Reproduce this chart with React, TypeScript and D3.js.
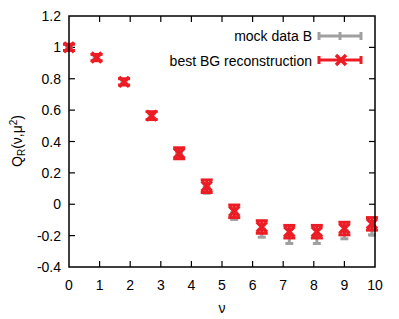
import React from "react";
import * as d3 from "d3";

const nu = [0, 0.9, 1.8, 2.7, 3.6, 4.5, 5.4, 6.3, 7.2, 8.1, 9.0, 9.9];
const bgValues = [1.0, 0.935, 0.78, 0.565, 0.325, 0.115, -0.045, -0.145, -0.175, -0.175, -0.155, -0.125];
const bgErrors = [0.02, 0.02, 0.02, 0.025, 0.035, 0.04, 0.04, 0.04, 0.04, 0.04, 0.04, 0.04];
const mockValues = [1.0, 0.935, 0.78, 0.56, 0.31, 0.09, -0.075, -0.185, -0.225, -0.225, -0.195, -0.17];
const mockErrors = [0.01, 0.01, 0.012, 0.015, 0.018, 0.02, 0.022, 0.025, 0.025, 0.025, 0.025, 0.025];
const xTicks = [0, 1, 2, 3, 4, 5, 6, 7, 8, 9, 10];
const yTicks = [-0.4, -0.2, 0, 0.2, 0.4, 0.6, 0.8, 1, 1.2];
const legendLabels = ["mock data B", "best BG reconstruction"];

const W = 399;
const H = 319;
const M = { left: 69, right: 375, top: 16, bottom: 267 };
const GRAY = "#a0a0a0";
const RED = "#ed1c24";
const FONT = "'Liberation Sans', Arial, sans-serif";

export default function App() {
  const x = d3.scaleLinear().domain([0, 10]).range([M.left, M.right]);
  const y = d3.scaleLinear().domain([-0.4, 1.2]).range([M.bottom, M.top]);
  const tl = 6;

  const errBar = (cx: number, v: number, e: number, color: string, capW: number, key: string) => {
    const y1 = y(v + e);
    const y2 = y(v - e);
    return (
      <g key={key} stroke={color} strokeWidth={3} fill="none">
        <line x1={cx} x2={cx} y1={y1} y2={y2} />
        <line x1={cx - capW / 2} x2={cx + capW / 2} y1={y1} y2={y1} />
        <line x1={cx - capW / 2} x2={cx + capW / 2} y1={y2} y2={y2} />
      </g>
    );
  };

  const xMark = (cx: number, cy: number, s: number, color: string, key: string) => (
    <path
      key={key}
      d={`M${cx - s},${cy - s}L${cx + s},${cy + s}M${cx - s},${cy + s}L${cx + s},${cy - s}`}
      stroke={color}
      strokeWidth={3.5}
      fill="none"
    />
  );

  return (
    <div style={{ position: "fixed", left: 0, top: 0 }}>
      <svg width={W} height={H} style={{ display: "block", background: "#fff" }} fontFamily={FONT}>
        {/* ticks */}
        <g stroke="#000" strokeWidth={1.2}>
          {xTicks.slice(1, -1).map((t) => (
            <g key={"xt" + t}>
              <line x1={x(t)} x2={x(t)} y1={M.bottom} y2={M.bottom - tl} />
              <line x1={x(t)} x2={x(t)} y1={M.top} y2={M.top + tl} />
            </g>
          ))}
          {yTicks.slice(1, -1).map((t) => (
            <g key={"yt" + t}>
              <line x1={M.left} x2={M.left + tl} y1={y(t)} y2={y(t)} />
              <line x1={M.right} x2={M.right - tl} y1={y(t)} y2={y(t)} />
            </g>
          ))}
        </g>
        {/* tick labels */}
        <g fontSize={14} fill="#000">
          {xTicks.map((t) => (
            <text key={"xl" + t} x={x(t)} y={290} textAnchor="middle">
              {String(t)}
            </text>
          ))}
          {yTicks.map((t) => (
            <text key={"yl" + t} x={61} y={y(t) + 5} textAnchor="end">
              {String(Math.round(t * 10) / 10)}
            </text>
          ))}
        </g>
        {/* axis labels */}
        <text x={222} y={313} fontSize={14} textAnchor="middle">ν</text>
        <text transform={`translate(22,141) rotate(-90)`} fontSize={14} textAnchor="middle">
          Q<tspan fontSize={10} dy={3}>R</tspan>
          <tspan dy={-3}>(ν,μ</tspan>
          <tspan fontSize={10} dy={-5}>2</tspan>
          <tspan dy={5}>)</tspan>
        </text>
        {/* mock data */}
        {nu.map((n, i) => errBar(x(n), mockValues[i], mockErrors[i], GRAY, 8, "m" + i))}
        {/* BG reconstruction */}
        {nu.map((n, i) => (
          <g key={"b" + i}>
            {errBar(x(n), bgValues[i], bgErrors[i], RED, 12, "be" + i)}
            {xMark(x(n), y(bgValues[i]), 5, RED, "bx" + i)}
          </g>
        ))}
        {/* legend */}
        <g fontSize={14}>
          <text x={312} y={41} textAnchor="end">{legendLabels[0]}</text>
          <g stroke={GRAY} strokeWidth={3}>
            <line x1={319} x2={361} y1={36} y2={36} />
            <line x1={319} x2={319} y1={32} y2={40} />
            <line x1={361} x2={361} y1={32} y2={40} />
            <line x1={340} x2={340} y1={32} y2={40} />
          </g>
          <text x={312} y={66} textAnchor="end">{legendLabels[1]}</text>
          <g stroke={RED} strokeWidth={3}>
            <line x1={319} x2={361} y1={60} y2={60} />
            <line x1={319} x2={319} y1={56} y2={64} />
            <line x1={361} x2={361} y1={56} y2={64} />
          </g>
          {xMark(341, 60, 5, RED, "lx")}
        </g>
        {/* frame */}
        <rect x={M.left} y={M.top} width={M.right - M.left} height={M.bottom - M.top} fill="none" stroke="#000" strokeWidth={1.5} />
      </svg>
    </div>
  );
}
